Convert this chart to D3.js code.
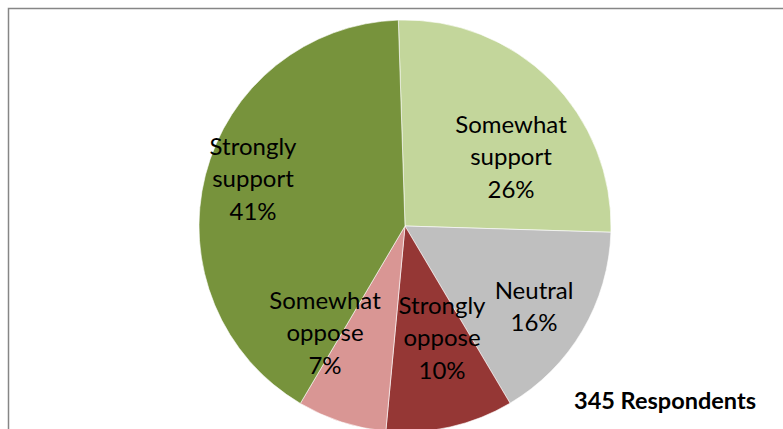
<!DOCTYPE html>
<html lang="en">
<head>
    <meta charset="UTF-8">
    <title>Respondents pie</title>
    <script src="https://d3js.org/d3.v7.min.js"></script>
    <style>
        body { margin: 0; background: #fff; }
        text { font-family: Lato, "Noto Sans", sans-serif; fill: #000; }
    </style>
</head>
<body>
    <div id="plot"></div>

    <script>
        // slices, clockwise from the top
        let categories = ['Somewhat support', 'Neutral', 'Strongly oppose', 'Somewhat oppose', 'Strongly support'];
        let percents = [26, 16, 10, 7, 41];
        let labelLines = [['Somewhat', 'support'], ['Neutral'], ['Strongly', 'oppose'], ['Somewhat', 'oppose'], ['Strongly', 'support']];
        let colors = ['#c3d69b', '#bfbfbf', '#953735', '#d99694', '#77933c'];
        let note = '345 Respondents';

        // where each label block sits, as offset from the pie centre
        let labelOffset = [[106, -69], [129, 81], [37, 112], [-80, 107], [-152, -47]];

        function translate(x, y){
            return 'translate(' + x + ', ' + y + ')';
        }

        let svgWidth = 783;
        let svgHeight = 429;
        let cx = 405, cy = 226, radius = 206;
        let lineH = 32.5;

        let svg = d3.select('#plot')
                    .append('svg')
                        .attr('width', svgWidth)
                        .attr('height', svgHeight);

        // chart frame (runs off the right and bottom edge)
        svg.append('rect')
            .attr('x', 8.5)
            .attr('y', 8.5)
            .attr('width', svgWidth + 20)
            .attr('height', svgHeight + 20)
            .attr('fill', 'none')
            .attr('stroke', '#868686')
            .attr('stroke-width', 1.5);

        let data = categories.map((c, i) => ({name: c, value: percents[i], lines: labelLines[i], color: colors[i], off: labelOffset[i]}));

        let startAngle = -1.86 * Math.PI / 180;
        let pie = d3.pie()
                    .sort(null)
                    .value(d => d.value)
                    .startAngle(startAngle)
                    .endAngle(startAngle + 2 * Math.PI);

        let arc = d3.arc()
                    .innerRadius(0)
                    .outerRadius(radius);

        let g = svg.append('g')
                    .attr('transform', translate(cx, cy));

        g.selectAll('path')
            .data(pie(data))
            .enter()
            .append('path')
            .attr('d', arc)
            .attr('fill', d => d.data.color)
            .attr('stroke', '#fff')
            .attr('stroke-width', 0.6);

        let labels = g.selectAll('text.lbl')
            .data(pie(data))
            .enter()
            .append('text')
            .attr('class', 'lbl')
            .attr('text-anchor', 'middle')
            .style('font-size', '24px')
            .attr('transform', d => translate(d.data.off[0], d.data.off[1]));

        labels.each(function(d){
            let lines = d.data.lines.concat([d.data.value + '%']);
            let n = lines.length;
            d3.select(this).selectAll('tspan')
                .data(lines)
                .enter()
                .append('tspan')
                .attr('x', 0)
                .attr('y', (l, i) => (i - (n - 1) / 2) * lineH + 8)
                .text(l => l);
        });

        svg.append('text')
            .attr('x', 665)
            .attr('y', 409)
            .attr('text-anchor', 'middle')
            .style('font-size', '23.5px')
            .style('font-weight', 'bold')
            .text(note);
    </script>
</body>
</html>
